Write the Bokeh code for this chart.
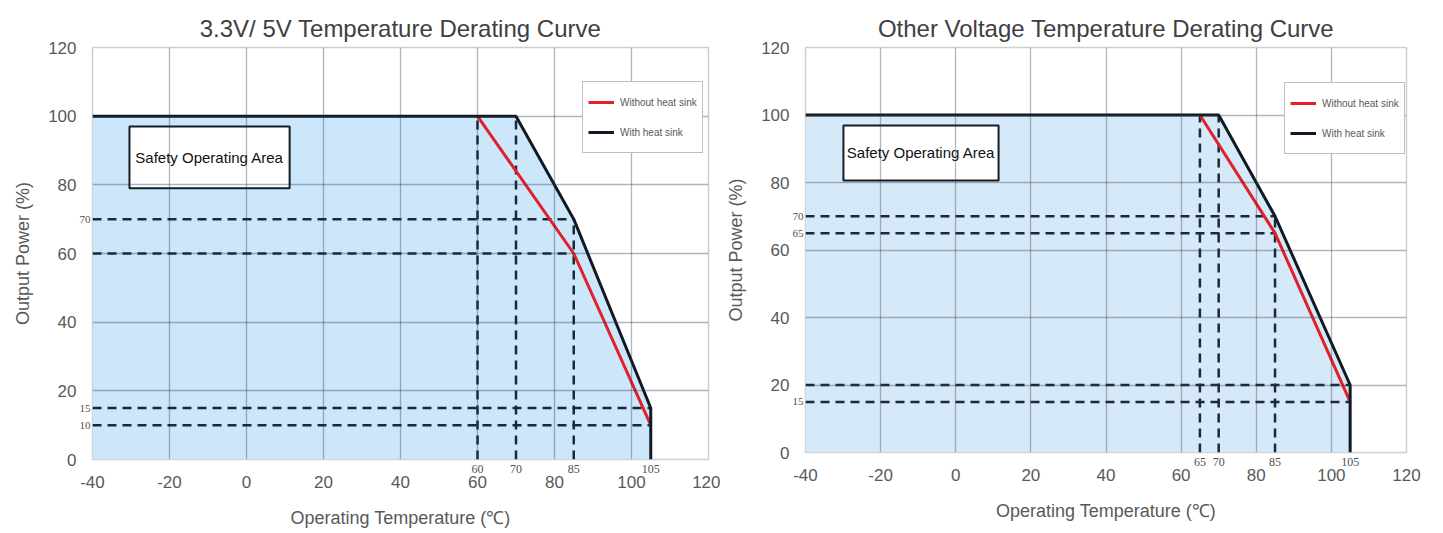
from bokeh.plotting import figure
from bokeh.layouts import row
from bokeh.models import Legend, LegendItem, LinearAxis, FixedTicker, Range1d
from bokeh.embed import file_html
from bokeh.resources import INLINE
from bokeh.core.properties import value

# ---------------- data ----------------
X_TICKS = [-40, -20, 0, 20, 40, 60, 80, 100, 120]
Y_TICKS = [0, 20, 40, 60, 80, 100, 120]

# Left chart: 3.3V / 5V
L_TITLE = "3.3V/ 5V Temperature Derating Curve"
L_BLACK_X = [-40, 70, 85, 105, 105]
L_BLACK_Y = [100, 100, 70, 15, 0]
L_RED_X = [60, 85, 105]
L_RED_Y = [100, 60, 10]
L_HDASH_Y = [70, 60, 15, 10]
L_HDASH_XEND = [85, 85, 105, 105]
L_VDASH_X = [60, 70, 85]
L_VDASH_YTOP = [100, 100, 70]
L_XMARK = [60, 70, 85, 105]
L_YMARK = [70, 15, 10]

# Right chart: other voltages
R_TITLE = "Other Voltage Temperature Derating Curve"
R_BLACK_X = [-40, 70, 85, 105, 105]
R_BLACK_Y = [100, 100, 70, 20, 0]
R_RED_X = [65, 85, 105]
R_RED_Y = [100, 65, 15]
R_HDASH_Y = [70, 65, 20, 15]
R_HDASH_XEND = [85, 85, 105, 105]
R_VDASH_X = [65, 70, 85]
R_VDASH_YTOP = [100, 100, 70]
R_XMARK = [65, 70, 85, 105]
R_YMARK = [70, 65, 15]

SERIES = ["Without heat sink", "With heat sink"]
AREA_LABEL = "Safety Operating Area"
X_TITLE = "Operating Temperature (℃)"
Y_TITLE = "Output Power (%)"

FONT = "Liberation Sans"
SERIF = "Liberation Serif"


def marker_axis(ticks, size, standoff):
    ax = LinearAxis(ticker=FixedTicker(ticks=ticks),
                    major_label_overrides={t: str(t) for t in ticks})
    ax.axis_line_color = None
    ax.major_tick_line_color = None
    ax.minor_tick_line_color = None
    ax.major_tick_out = 0
    ax.major_tick_in = 0
    ax.minor_tick_out = 0
    ax.major_label_standoff = standoff
    ax.major_label_text_font = SERIF
    ax.major_label_text_font_size = size
    ax.major_label_text_color = "#505050"
    return ax


def make_chart(title, bx, by, rx, ry, hy, hxe, vx, vyt, xm, ym,
               frame_w, frame_h, border_left, border_right, fill, grid_color,
               box, legend_loc):
    p = figure(width=None, height=None, frame_width=frame_w, frame_height=frame_h,
               x_range=Range1d(X_TICKS[0], X_TICKS[-1]),
               y_range=Range1d(Y_TICKS[0], Y_TICKS[-1]),
               output_backend="svg", toolbar_location=None, tools="",
               min_border_left=border_left, min_border_right=border_right,
               min_border_top=47, min_border_bottom=60)
    p.title.text = title
    p.title.align = "center"
    p.title.text_font = FONT
    p.title.text_font_size = "24px"
    p.title.text_font_style = "normal"
    p.title.text_color = "#404040"
    p.title.standoff = 12

    p.background_fill_color = "white"
    p.border_fill_color = "white"
    p.outline_line_color = "#cfcfcf"
    p.outline_line_width = 1.5

    p.xaxis.ticker = FixedTicker(ticks=X_TICKS)
    p.yaxis.ticker = FixedTicker(ticks=Y_TICKS)
    p.xaxis.major_label_overrides = {t: str(t) for t in X_TICKS}
    p.yaxis.major_label_overrides = {t: str(t) for t in Y_TICKS}
    for ax in (p.xaxis, p.yaxis):
        ax.axis_line_color = None
        ax.major_tick_line_color = None
        ax.minor_tick_line_color = None
        ax.major_tick_out = 0
        ax.major_tick_in = 0
        ax.minor_tick_out = 0
        ax.major_label_text_font = FONT
        ax.major_label_text_font_size = "17px"
        ax.major_label_text_color = "#595959"
        ax.axis_label_text_font = FONT
        ax.axis_label_text_font_size = "18px"
        ax.axis_label_text_font_style = "normal"
        ax.axis_label_text_color = "#595959"
    p.xaxis.axis_label = X_TITLE
    p.yaxis.axis_label = Y_TITLE
    p.xaxis.major_label_standoff = 0
    p.yaxis.major_label_standoff = 0
    p.xaxis.axis_label_standoff = 17
    p.yaxis.axis_label_standoff = 12

    # small marker labels next to the frame (inner axes)
    main_x = p.xaxis[0]
    main_y = p.yaxis[0]
    p.below = [marker_axis(xm, "12px", 5), main_x]
    p.left = [marker_axis(ym, "11px", 2), main_y]

    p.xgrid.ticker = FixedTicker(ticks=X_TICKS)
    p.ygrid.ticker = FixedTicker(ticks=Y_TICKS)
    for g in (p.xgrid, p.ygrid):
        g.grid_line_color = grid_color
        g.grid_line_alpha = 0.36
        g.grid_line_width = 1.3
        g.level = "glyph"

    # shaded safe operating area under the "with heat sink" curve
    p.patch(bx + [bx[0]], by + [0], fill_color=fill, line_color=None, level="underlay")

    # dashed reference lines
    dash = dict(line_color="#1b2a3a", line_width=2.5, line_dash="9 6")
    p.segment(x0=[X_TICKS[0]] * len(hy), y0=hy, x1=hxe, y1=hy, **dash)
    p.segment(x0=vx, y0=[0] * len(vx), x1=vx, y1=vyt, **dash)

    red = p.line(rx, ry, line_color="#e0202a", line_width=3)
    black = p.line(bx, by, line_color="#111a24", line_width=3)

    # safety operating area box
    (x0, x1, y0, y1) = box
    p.quad(left=[x0], right=[x1], bottom=[y0], top=[y1], fill_color="white",
           line_color="#141c26", line_width=2)
    p.text(x=[(x0 + x1) / 2], y=[(y0 + y1) / 2], text=[AREA_LABEL],
           text_font=value(FONT), text_font_size="15px", text_color="#111111",
           text_align="center", text_baseline="middle")

    legend = Legend(items=[LegendItem(label=SERIES[0], renderers=[red]),
                           LegendItem(label=SERIES[1], renderers=[black])],
                    location=legend_loc, margin=0, padding=5, spacing=0,
                    glyph_width=26, glyph_height=30, label_height=30,
                    label_standoff=6,
                    label_text_font=FONT, label_text_font_size="10px",
                    label_text_color="#595959",
                    border_line_color="#7f7f7f", border_line_width=1.5,
                    background_fill_color="white", background_fill_alpha=1.0)
    p.add_layout(legend)
    return p


left = make_chart(L_TITLE, L_BLACK_X, L_BLACK_Y, L_RED_X, L_RED_Y,
                  L_HDASH_Y, L_HDASH_XEND, L_VDASH_X, L_VDASH_YTOP,
                  L_XMARK, L_YMARK, 616, 412, 92, 12, "#cce6fa", "#1e3250",
                  (-30.4, 11.2, 79, 97), (490, 306))
right = make_chart(R_TITLE, R_BLACK_X, R_BLACK_Y, R_RED_X, R_RED_Y,
                   R_HDASH_Y, R_HDASH_XEND, R_VDASH_X, R_VDASH_YTOP,
                   R_XMARK, R_YMARK, 601, 405, 85, 29, "#d6e9f8", "#303840",
                   (-29.9, 11.4, 80.6, 96.9), (479, 298))

layout = row(left, right)
open("out.html", "w").write(file_html(layout, INLINE))
